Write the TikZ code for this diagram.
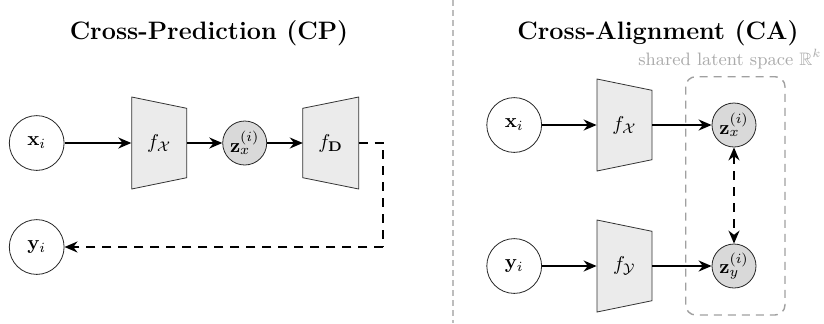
\documentclass[tikz,border=0pt]{standalone}
\usepackage{amsmath,amssymb}
\usetikzlibrary{arrows.meta}
\definecolor{encfill}{HTML}{EBEBEB}
\definecolor{latfill}{HTML}{D9D9D9}
\definecolor{sepgray}{HTML}{BDBDBD}
\definecolor{boxgray}{HTML}{A0A0A0}
\definecolor{labgray}{HTML}{AAAAAA}
\tikzset{
  datanode/.style={circle, draw=black!85, thin, fill=white, minimum size=27.4pt, inner sep=0pt},
  latnode/.style={circle, draw=black!85, thin, fill=latfill, minimum size=22pt, inner sep=0pt},
  traplabel/.style={minimum width=27.5pt, minimum height=20pt, inner sep=0pt},
  trapbox/.style={draw=black!80, thin, fill=encfill},
  flow/.style={line width=0.95pt, -{Stealth[length=6.5pt,width=5.5pt]}},
  dflow/.style={line width=0.95pt, dash pattern=on 4.5pt off 3.5pt},
  titletext/.style={font=\fontsize{12.6}{15}\selectfont\bfseries, anchor=base},
  encpic/.pic={\draw[trapbox] (-27.5,-46) -- (27.5,-34.7) -- (27.5,34.7) -- (-27.5,46) -- cycle;},
  decpic/.pic={\draw[trapbox] (-28,-34.7) -- (28,-46) -- (28,46) -- (-28,34.7) -- cycle;}
}
\begin{document}
\begin{tikzpicture}[x=0.5pt,y=-0.5pt]
\useasboundingbox (0,0) rectangle (824,323);

% titles
\node[titletext] (t1) at (209,39) {Cross-Prediction (CP)};
\node[titletext] (t2) at (658,39) {Cross-Alignment (CA)};

% separator
\draw[sepgray, line width=0.9pt, dash pattern=on 3pt off 2pt] (453.3,0) -- (453.3,323);

% ---------- left panel ----------
\node[datanode] (xa) at (36.7,143) {$\mathbf{x}_i$};
\pic at (159.2,143) {encpic};
\node[traplabel] (fxa) at (159.2,143) {$f_{\mathcal{X}}$};
\node[latnode] (za) at (244.7,143) {$\mathbf{z}_x^{(i)}$};
\pic at (330.7,143) {decpic};
\node[traplabel] (fd) at (330.7,143) {$f_{\mathbf{D}}$};
\node[datanode] (ya) at (36.7,247) {$\mathbf{y}_i$};
\coordinate (c1) at (383.3,143);
\coordinate (c2) at (383.3,247);

\draw[flow] (xa) -- (fxa);
\draw[flow] (fxa) -- (za);
\draw[flow] (za) -- (fd.west);
\draw[dflow] (fd.east) -- (c1) -- (c2);
\draw[dflow, -{Stealth[length=6.5pt,width=5.5pt]}] (c2) -- (ya);

% ---------- right panel ----------
\draw[boxgray, line width=0.7pt, dash pattern=on 4pt off 3pt, rounded corners=5pt]
  (685.7,76.7) rectangle (785,315);
\node[anchor=base east, text=labgray, font=\small, inner sep=0pt] (lab) at (822,65) {shared latent space $\mathbb{R}^k$};

\node[datanode] (xb) at (514.2,125) {$\mathbf{x}_i$};
\pic at (624.5,125) {encpic};
\node[traplabel] (fxb) at (624.5,125) {$f_{\mathcal{X}}$};
\node[latnode] (zx) at (734,125) {$\mathbf{z}_x^{(i)}$};

\node[datanode] (yb) at (514.2,266) {$\mathbf{y}_i$};
\pic at (624.5,266) {encpic};
\node[traplabel] (fyb) at (624.5,266) {$f_{\mathcal{Y}}$};
\node[latnode] (zy) at (734,266) {$\mathbf{z}_y^{(i)}$};

\draw[flow] (xb) -- (fxb);
\draw[flow] (fxb) -- (zx);
\draw[flow] (yb) -- (fyb);
\draw[flow] (fyb) -- (zy);
\draw[dflow, {Stealth[length=6.5pt,width=5.5pt]}-{Stealth[length=6.5pt,width=5.5pt]}] (zx) -- (zy);
\end{tikzpicture}
\end{document}
